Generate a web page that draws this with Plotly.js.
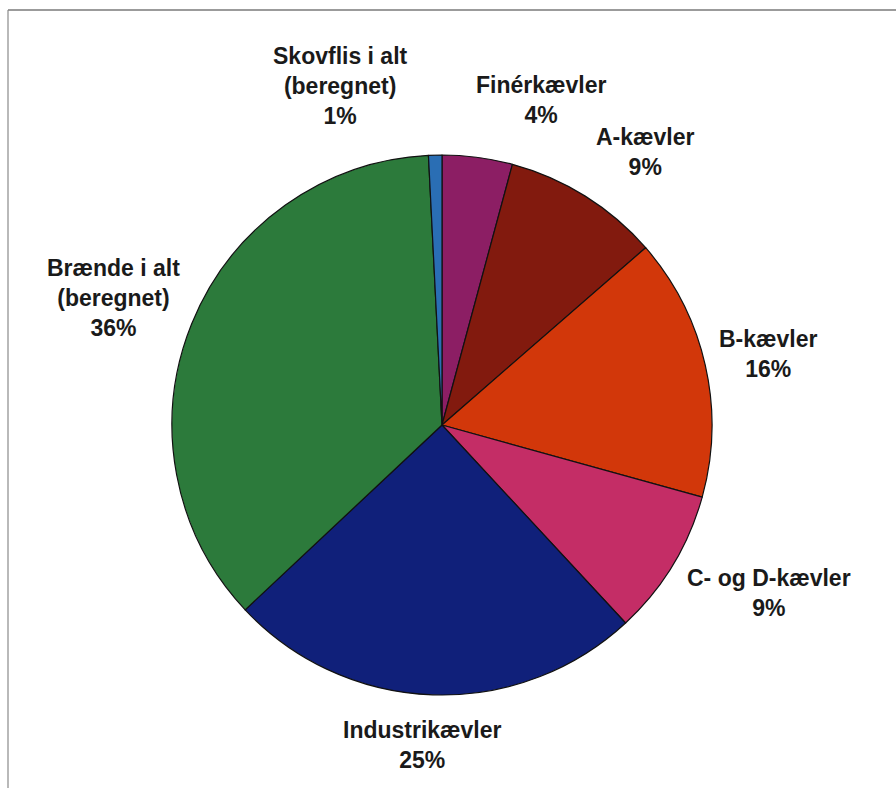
<!DOCTYPE html>
<html>
<head>
<meta charset="utf-8">
<script src="https://cdn.plot.ly/plotly-3.0.1.min.js"></script>
<style>html,body{margin:0;padding:0;background:#fff;}#chart{width:896px;height:788px;}</style>
</head>
<body>
<div id="chart"></div>
<script>
// Data (clockwise from 12 o'clock)
var categories = ["Finérkævler", "A-kævler", "B-kævler", "C- og D-kævler", "Industrikævler", "Brænde i alt<br>(beregnet)", "Skovflis i alt<br>(beregnet)"];
var values = [4.2, 9.4, 15.7, 8.8, 24.9, 36.2, 0.8];
var colors = ["#8C1E64", "#821A0E", "#D2370A", "#C42D66", "#10207A", "#2C7A3B", "#2A6EB4"];
// label centres (pixels) – text positions only
var labelPos = [[541, 100], [645, 152], [768, 354], [769, 593], [422, 745], [113, 298], [340, 86]];

var total = values.reduce(function (a, b) { return a + b; }, 0);
var W = 896, H = 788;

var annotations = categories.map(function (c, i) {
  return {
    xref: "paper", yref: "paper",
    x: labelPos[i][0] / W, y: 1 - labelPos[i][1] / H,
    xanchor: "center", yanchor: "middle",
    text: c + "<br>" + Math.round(values[i] / total * 100) + "%",
    showarrow: false, align: "center",
    font: { family: "Liberation Sans, Arial, sans-serif", size: 23, color: "#1a1a1a", weight: "bold" }
  };
});

var trace = {
  type: "pie",
  labels: categories,
  values: values,
  sort: false,
  direction: "clockwise",
  rotation: 0,
  textinfo: "none",
  hoverinfo: "label+percent",
  marker: { colors: colors, line: { color: "#111", width: 1.2 } },
  domain: { x: [172 / W, 712 / W], y: [1 - 695 / H, 1 - 155 / H] },
  showlegend: false
};

var layout = {
  width: W, height: H,
  margin: { l: 0, r: 0, t: 0, b: 0 },
  paper_bgcolor: "#ffffff",
  showlegend: false,
  annotations: annotations,
  shapes: [
    { type: "line", xref: "paper", yref: "paper", x0: 8 / W, x1: 1, y0: 1 - 10 / H, y1: 1 - 10 / H, line: { color: "#7a7a7a", width: 1.5 } },
    { type: "line", xref: "paper", yref: "paper", x0: 8 / W, x1: 8 / W, y0: 0, y1: 1 - 10 / H, line: { color: "#8a8a8a", width: 1.2 } }
  ]
};

Plotly.newPlot("chart", [trace], layout, { displayModeBar: false, staticPlot: true });
</script>
</body>
</html>
